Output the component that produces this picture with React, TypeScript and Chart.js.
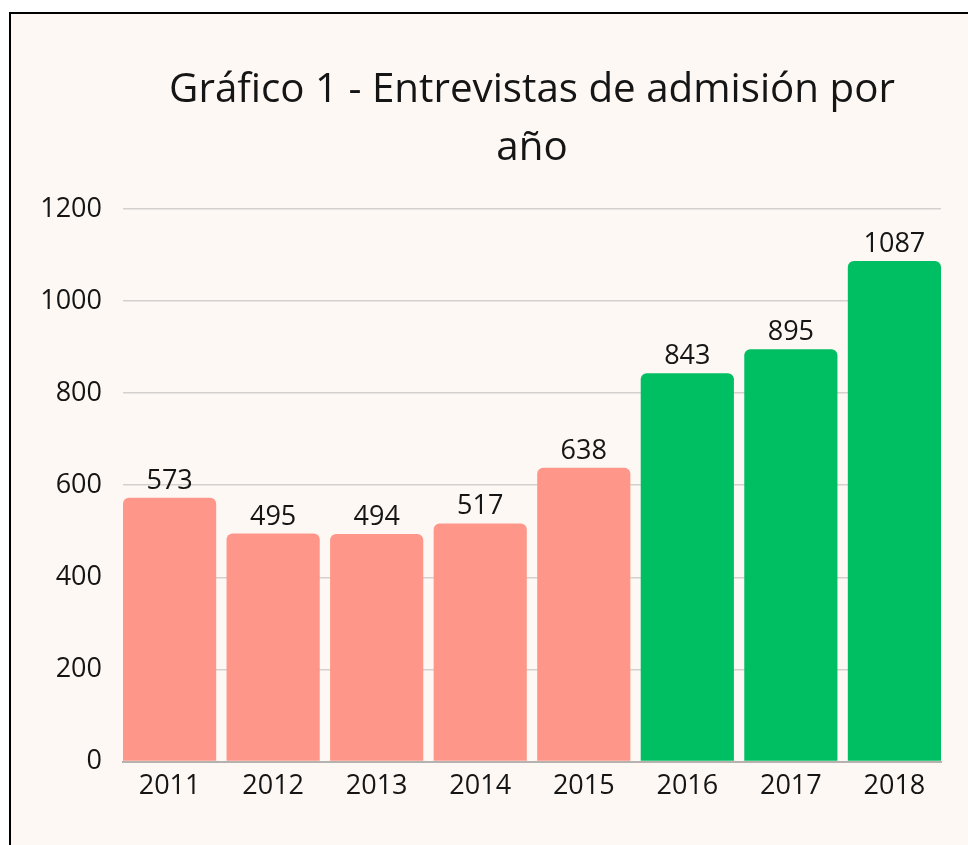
import React, { useEffect, useRef } from "react";
import { Chart, registerables } from "chart.js";

Chart.register(...registerables);

const categories = ["2011", "2012", "2013", "2014", "2015", "2016", "2017", "2018"];
const values = [573, 495, 494, 517, 638, 843, 895, 1087];
const barColors = ["#ff968a", "#ff968a", "#ff968a", "#ff968a", "#ff968a", "#00bf63", "#00bf63", "#00bf63"];
const yTicks = [0, 200, 400, 600, 800, 1000, 1200];
const titleLines = ["Gráfico 1 - Entrevistas de admisión por", "año"];

const FONT = "'Open Sans', 'Noto Sans', sans-serif";

const valueLabels = {
  id: "valueLabels",
  afterDatasetsDraw(chart: any) {
    const ctx = chart.ctx;
    const meta = chart.getDatasetMeta(0);
    ctx.save();
    ctx.font = `27px ${FONT}`;
    ctx.fillStyle = "#151515";
    ctx.textAlign = "center";
    ctx.textBaseline = "alphabetic";
    meta.data.forEach((el: any, i: number) => {
      ctx.fillText(String(values[i]), el.x, el.y - 9);
    });
    ctx.restore();
  },
};

export default function App() {
  const ref = useRef<HTMLCanvasElement>(null);
  useEffect(() => {
    if (!ref.current) return;
    const chart = new Chart(ref.current, {
      type: "bar",
      data: {
        labels: categories,
        datasets: [
          {
            data: values.map((v, i) => ({ x: i, y: v })),
            backgroundColor: barColors,
            borderRadius: 6,
            borderSkipped: "start",
            barPercentage: 0.9,
            categoryPercentage: 1,
          },
        ],
      },
      options: {
        animation: false,
        responsive: false,
        maintainAspectRatio: false,
        layout: { padding: { left: 0, right: 27, top: 0, bottom: 33 } },
        plugins: {
          legend: { display: false },
          tooltip: { enabled: false },
          title: {
            display: true,
            text: titleLines,
            fullSize: false,
            color: "#151515",
            font: { family: FONT, size: 40.3, weight: "normal", lineHeight: 1.45 },
            padding: { top: 47, bottom: 31 },
          },
        },
        scales: {
          x: {
            type: "linear",
            min: -0.45,
            max: categories.length - 0.55,
            offset: false,
            grid: { display: false, drawTicks: false },
            border: { display: true, color: "#b5b2b0", width: 2 },
            ticks: {
              stepSize: 1,
              includeBounds: false,
              color: "#151515",
              font: { family: FONT, size: 27 },
              padding: 9,
              callback: (v: any) => (Number.isInteger(v) && categories[v] !== undefined ? categories[v] : ""),
            },
          },
          y: {
            min: yTicks[0],
            max: yTicks[yTicks.length - 1],
            afterFit: (s: any) => {
              s.width = 112;
            },
            ticks: {
              stepSize: 200,
              color: "#151515",
              font: { family: FONT, size: 27 },
              padding: 21,
              callback: (v: any) => String(v),
            },
            grid: { color: "#d3d0ce", lineWidth: 1.5, drawTicks: false },
            border: { display: false },
          },
        },
      },
      plugins: [valueLabels],
    });
    return () => chart.destroy();
  }, []);

  return (
    <div style={{ position: "fixed", inset: 0, overflow: "hidden", background: "#ffffff" }}>
      <div
        style={{
          position: "absolute",
          left: 9,
          top: 12,
          width: 1000,
          height: 900,
          border: "2px solid #000",
          background: "#fdf8f4",
        }}
      />
      <canvas
        ref={ref}
        width={957}
        height={831}
        style={{ position: "absolute", left: 11, top: 14, width: 957, height: 831 }}
      />
    </div>
  );
}
